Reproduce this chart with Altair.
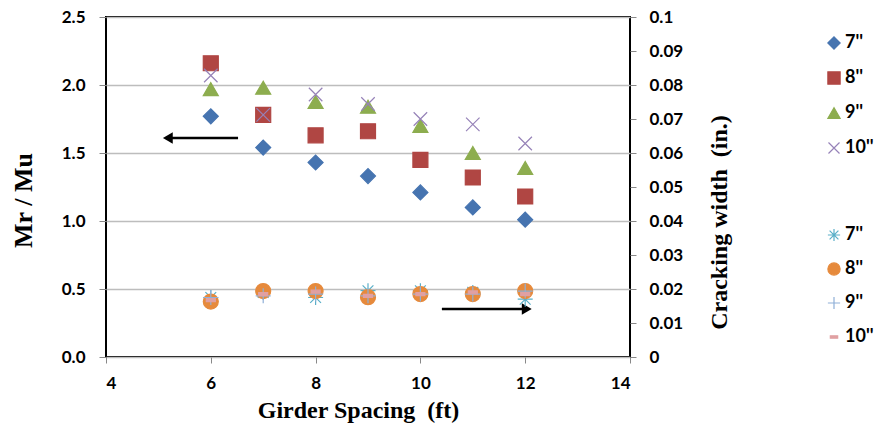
import altair as alt
import pandas as pd

# ---------------- data ----------------
spacing = [6, 7, 8, 9, 10, 11, 12]
series = ["7''", "8''", "9''", "10''"]

mr_7 = [1.77, 1.54, 1.43, 1.33, 1.21, 1.10, 1.01]
mr_8 = [2.16, 1.78, 1.63, 1.66, 1.45, 1.32, 1.18]
mr_9 = [1.97, 1.98, 1.875, 1.84, 1.70, 1.50, 1.39]
mr_10 = [2.07, 1.78, 1.93, 1.86, 1.75, 1.71, 1.57]

cw_7 = [0.0175, 0.019, 0.0175, 0.0195, 0.0195, 0.019, 0.017]
cw_8 = [0.0163, 0.0194, 0.0194, 0.0176, 0.0185, 0.0185, 0.0194]
cw_9 = [0.0175, 0.018, 0.0185, 0.018, 0.0185, 0.0185, 0.0194]
cw_10 = [0.0167, 0.0185, 0.0192, 0.018, 0.0185, 0.019, 0.0185]

# arrow annotations (data units, left axis)
arrow_start = [6.52, 10.41]
arrow_head = [5.18, 12.03]
arrow_level = [1.61, 0.353]
arrow_dir = ["left", "right"]

left_ticks = [0, 0.5, 1.0, 1.5, 2.0, 2.5]
right_ticks = [0, 0.01, 0.02, 0.03, 0.04, 0.05, 0.06, 0.07, 0.08, 0.09, 0.1]
x_ticks = [4, 6, 8, 10, 12, 14]

# ---------------- tables ----------------
up_rows = []
for s, vals in zip(series, [mr_7, mr_8, mr_9, mr_10]):
    for x, v in zip(spacing, vals):
        up_rows.append({"spacing": x, "mr": v, "slab": s})
up_df = pd.DataFrame(up_rows)

low_rows = []
for s, vals in zip(series, [cw_7, cw_8, cw_9, cw_10]):
    for x, v in zip(spacing, vals):
        low_rows.append({"spacing": x, "cw": v, "slab2": s})
low_df = pd.DataFrame(low_rows)

arrow_df = pd.DataFrame({"spacing": arrow_start, "x2": arrow_head,
                         "mr": arrow_level, "dir": arrow_dir})

# ---------------- styles ----------------
BLUE, RED, GREEN, PURPLE = "#4674B0", "#B04643", "#8DAD4F", "#9682B8"
AQUA, ORANGE, LBLUE, PINK = "#5AAFC8", "#E68A3C", "#8FB0D8", "#E0A0A2"

shape_x = "M-0.9,-0.9L0.9,0.9M-0.9,0.9L0.9,-0.9"
shape_ast = "M-1,0L1,0M0,-1L0,1M-0.72,-0.72L0.72,0.72M-0.72,0.72L0.72,-0.72"
shape_plus = "M-1,0L1,0M0,-1L0,1"
shape_dash = "M-0.6,-0.2L0.6,-0.2L0.6,0.2L-0.6,0.2Z"

LBL_FONT = "Lato"
TTL_FONT = "Liberation Serif"

x_axis = alt.Axis(values=x_ticks, title="Girder Spacing \u00a0(ft)",
                  labelFont=LBL_FONT, labelFontSize=17, labelFontWeight="bold",
                  labelColor="black", labelPadding=12,
                  titleFont=TTL_FONT, titleFontSize=24, titleFontWeight="bold",
                  titleColor="black", titleX=252, titleY=60, titleAlign="center",
                  titleBaseline="alphabetic",
                  tickSize=6, tickColor="#888888", domain=False, grid=False)
x_scale = alt.Scale(domain=[4, 14], nice=False, zero=False)

y_axis = alt.Axis(values=left_ticks, format=".1f", title="Mr / Mu",
                  labelFont=LBL_FONT, labelFontSize=17, labelFontWeight="bold",
                  labelColor="black", labelPadding=14,
                  titleFont=TTL_FONT, titleFontSize=26, titleFontWeight="bold",
                  titleColor="black", titleX=-70, titleY=183, titleAngle=270,
                  titleAlign="center", titleBaseline="bottom",
                  tickSize=7, tickColor="#888888", domain=False,
                  grid=True, gridColor="#BDBDBD", gridWidth=1.5)
y_scale = alt.Scale(domain=[0, 2.5], nice=False)

up_legend = alt.Legend(title=None, orient="none", legendX=719, legendY=17,
                       symbolSize=150, labelFont=LBL_FONT, labelFontSize=18,
                       labelFontWeight="bold", labelColor="black", rowPadding=17,
                       symbolStrokeWidth=1.2, labelOffset=2)
low_legend = alt.Legend(title=None, orient="none", legendX=719, legendY=209,
                        symbolSize=150, labelFont=LBL_FONT, labelFontSize=18,
                        labelFontWeight="bold", labelColor="black", rowPadding=16,
                        symbolStrokeWidth=1.2, labelOffset=2)

up = alt.Chart(up_df).mark_point(opacity=1, size=225, strokeWidth=1.2).encode(
    x=alt.X("spacing:Q", scale=x_scale, axis=x_axis),
    y=alt.Y("mr:Q", scale=y_scale, axis=y_axis),
    shape=alt.Shape("slab:N", scale=alt.Scale(domain=series,
                    range=["diamond", "square", "triangle-up", shape_x]), legend=up_legend),
    fill=alt.Fill("slab:N", scale=alt.Scale(domain=series,
                  range=[BLUE, RED, GREEN, "transparent"]), legend=up_legend),
    stroke=alt.Stroke("slab:N", scale=alt.Scale(domain=series,
                      range=[BLUE, RED, GREEN, PURPLE]), legend=up_legend),
)

arrow_line = alt.Chart(arrow_df).mark_rule(color="black", strokeWidth=2.5).encode(
    x=alt.X("spacing:Q", scale=x_scale, axis=x_axis), x2="x2:Q",
    y=alt.Y("mr:Q", scale=y_scale, axis=y_axis))

head_left = alt.Chart(arrow_df).transform_filter(alt.datum.dir == "left").mark_point(
    shape="triangle-left", filled=True, color="black", opacity=1, size=130).encode(
    x=alt.X("x2:Q", scale=x_scale, axis=x_axis), y=alt.Y("mr:Q", scale=y_scale, axis=y_axis))
head_right = alt.Chart(arrow_df).transform_filter(alt.datum.dir == "right").mark_point(
    shape="triangle-right", filled=True, color="black", opacity=1, size=130).encode(
    x=alt.X("x2:Q", scale=x_scale, axis=x_axis), y=alt.Y("mr:Q", scale=y_scale, axis=y_axis))

upper_layer = alt.layer(up, arrow_line, head_left, head_right)

low = alt.Chart(low_df).mark_point(opacity=1, size=225, strokeWidth=1.2).encode(
    x=alt.X("spacing:Q", scale=x_scale, axis=x_axis),
    y=alt.Y("cw:Q", scale=alt.Scale(domain=[0, 0.1], nice=False),
            axis=alt.Axis(orient="right", values=right_ticks, format=".2~f",
                          title="Cracking width \u00a0(in.)", titleAngle=270,
                          titleBaseline="top", titleAlign="center",
                          titleX=77, titleY=205,
                          labelFont=LBL_FONT, labelFontSize=17, labelFontWeight="bold",
                          labelColor="black", labelPadding=13,
                          titleFont=TTL_FONT, titleFontSize=24, titleFontWeight="bold",
                          titleColor="black",
                          tickSize=6, tickColor="#888888", domain=False, grid=False)),
    shape=alt.Shape("slab2:N", scale=alt.Scale(domain=series,
                    range=[shape_ast, "circle", shape_plus, shape_dash]), legend=low_legend),
    fill=alt.Fill("slab2:N", scale=alt.Scale(domain=series,
                  range=["transparent", ORANGE, "transparent", PINK]), legend=low_legend),
    stroke=alt.Stroke("slab2:N", scale=alt.Scale(domain=series,
                      range=[AQUA, ORANGE, LBLUE, PINK]), legend=low_legend),
)

chart = alt.layer(upper_layer, low).resolve_scale(
    y="independent", shape="independent", fill="independent", stroke="independent"
).properties(
    width=524, height=340,
    padding={"left": 106, "top": 17, "right": 246, "bottom": 66},
    autosize=alt.AutoSizeParams(type="none"),
    background="white",
).configure_view(stroke="black", strokeWidth=2)

chart.save("out.html", embed_options={"renderer": "svg", "actions": False})
